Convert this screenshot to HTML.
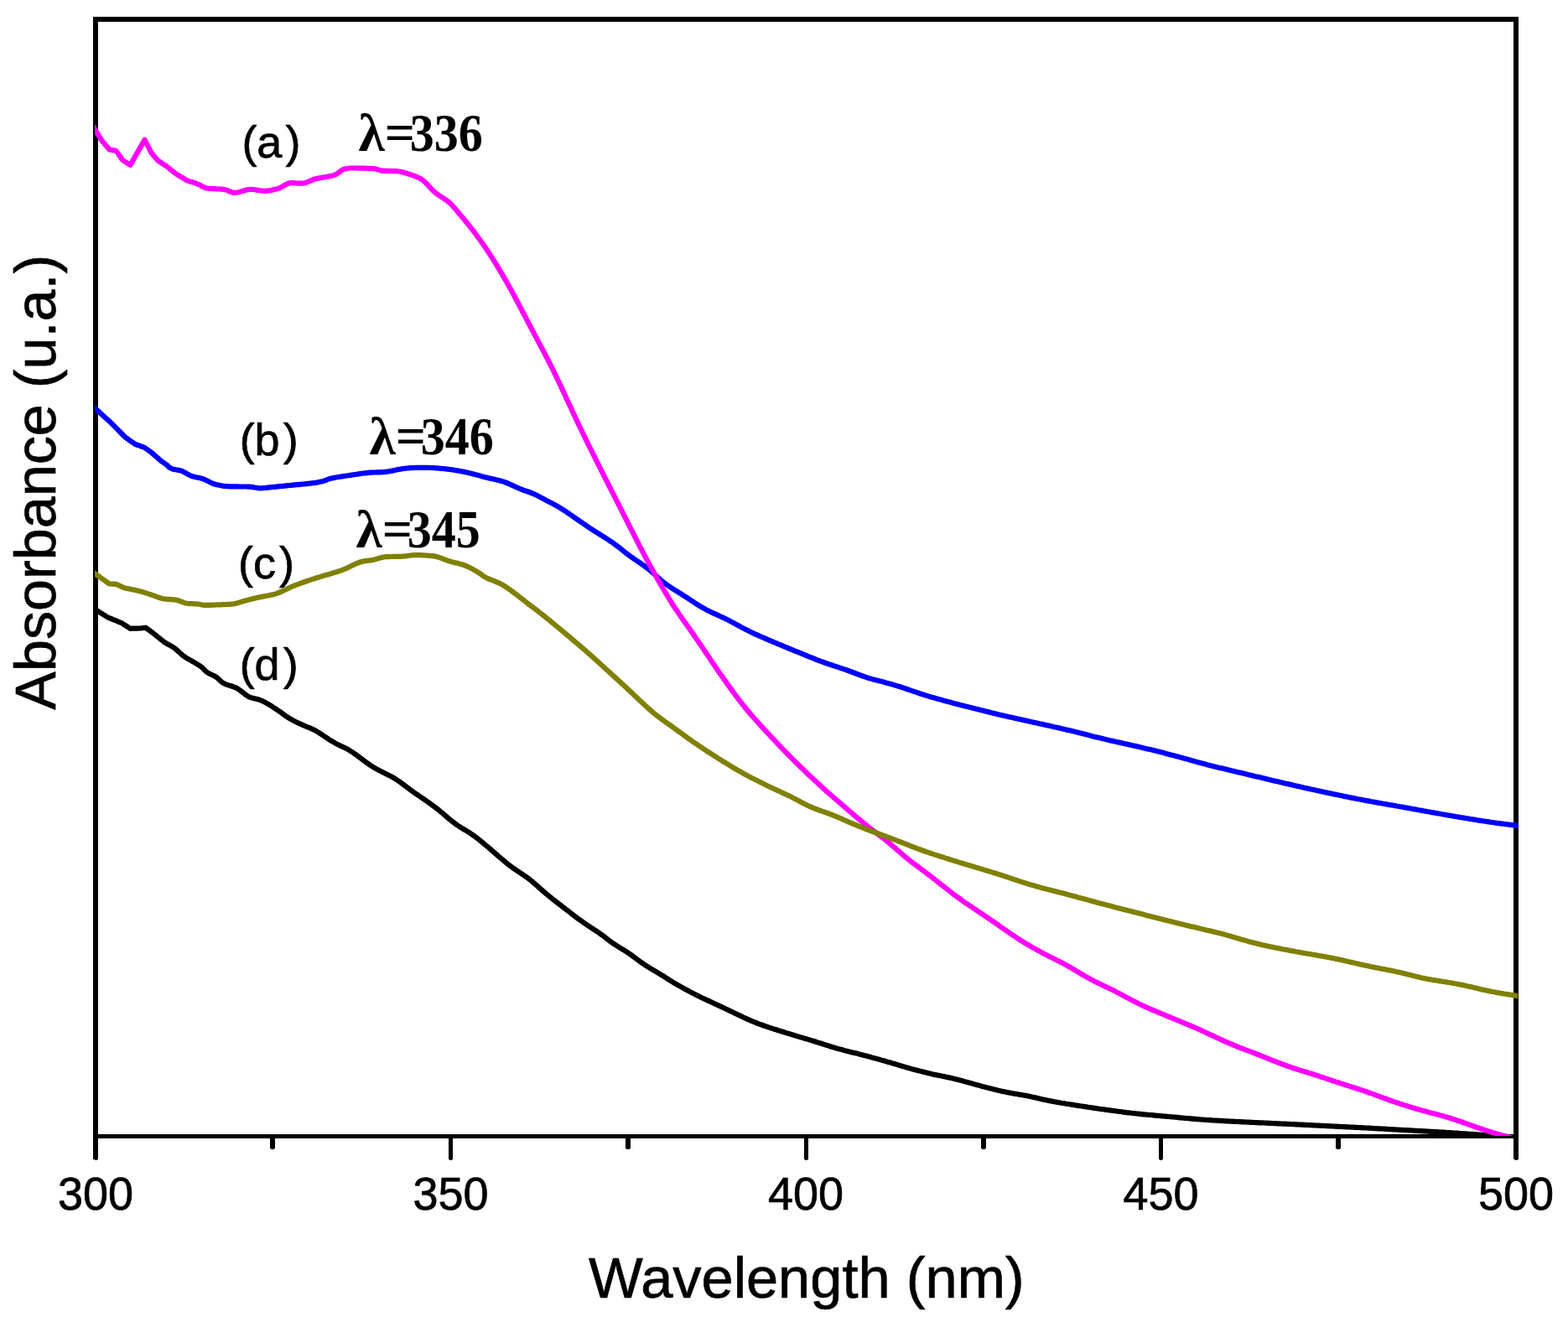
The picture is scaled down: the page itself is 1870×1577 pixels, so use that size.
<!DOCTYPE html>
<html lang="en">
<head>
<meta charset="utf-8">
<title>UV-Vis absorbance spectra</title>
<style>
html,body{margin:0;padding:0;background:#fff;}
body{width:1870px;height:1577px;overflow:hidden;}
svg{display:block;}
</style>
</head>
<body>
<svg width="1870" height="1577" viewBox="0 0 1870 1577">
<defs><clipPath id="clip"><rect x="113" y="23" width="1697.3" height="1332"/></clipPath></defs>
<rect x="0" y="0" width="1870" height="1577" fill="#fff"/>
<g fill="#000" shape-rendering="crispEdges">
<rect x="111" y="20" width="6" height="1363"/>
<rect x="1805" y="20" width="6" height="1363"/>
<rect x="111" y="20" width="1700" height="6"/>
<rect x="111" y="1353" width="1700" height="5"/>
<rect x="535.00" y="1353" width="5" height="30"/>
<rect x="958.50" y="1353" width="5" height="30"/>
<rect x="1382.00" y="1353" width="5" height="30"/>
<rect x="112.50" y="1383" width="3" height="1"/>
<rect x="536.00" y="1383" width="3" height="1"/>
<rect x="959.50" y="1383" width="3" height="1"/>
<rect x="1383.00" y="1383" width="3" height="1"/>
<rect x="1806.50" y="1383" width="3" height="1"/>
<rect x="322" y="1353" width="6" height="17"/>
<rect x="323" y="1370" width="4" height="1"/>
<rect x="746" y="1353" width="6" height="17"/>
<rect x="747" y="1370" width="4" height="1"/>
<rect x="1170" y="1353" width="6" height="17"/>
<rect x="1171" y="1370" width="4" height="1"/>
<rect x="1593" y="1353" width="6" height="17"/>
<rect x="1594" y="1370" width="4" height="1"/>
</g>
<g font-family="'Liberation Sans', Arial, sans-serif" font-size="54px" fill="#000" stroke="#000" stroke-width="0.7" stroke-linejoin="round">
<text transform="translate(114.0,1442.9) scale(1,1.04)" text-anchor="middle">300</text>
<text transform="translate(537.5,1442.9) scale(1,1.04)" text-anchor="middle">350</text>
<text transform="translate(961.0,1442.9) scale(1,1.04)" text-anchor="middle">400</text>
<text transform="translate(1384.5,1442.9) scale(1,1.04)" text-anchor="middle">450</text>
<text transform="translate(1808.0,1442.9) scale(1,1.04)" text-anchor="middle">500</text>
<text x="288.4 306.3 340.4" y="188.2">(a)</text>
<text x="285.7 303.6 337.7" y="543.2">(b)</text>
<text x="284.1 302.0 333.1" y="689.8">(c)</text>
<text x="285.7 303.6 337.7" y="811.4">(d)</text>
</g>
<g font-family="'Liberation Serif', 'Times New Roman', serif" font-weight="bold" font-size="62.5px" fill="#000">
<text y="179.8"><tspan x="427.6" textLength="67.5" lengthAdjust="spacingAndGlyphs">λ=</tspan><tspan x="488.7" textLength="87" lengthAdjust="spacingAndGlyphs">336</tspan></text>
<text y="541.8"><tspan x="440.6" textLength="67.5" lengthAdjust="spacingAndGlyphs">λ=</tspan><tspan x="501.7" textLength="87" lengthAdjust="spacingAndGlyphs">346</tspan></text>
<text y="652.5"><tspan x="424.6" textLength="67.5" lengthAdjust="spacingAndGlyphs">λ=</tspan><tspan x="485.7" textLength="87" lengthAdjust="spacingAndGlyphs">345</tspan></text>
</g>
<g font-family="'Liberation Sans', Arial, sans-serif" font-size="68.6px" fill="#000" stroke="#000" stroke-width="0.7" stroke-linejoin="round">
<text x="961.8" y="1547.6" text-anchor="middle">Wavelength (nm)</text>
<text transform="translate(66,575.2) rotate(-90)" text-anchor="middle" font-size="68.3px">Absorbance (u.a.)</text>
</g>
<g fill="none" stroke-width="6.2" stroke-linejoin="round" stroke-linecap="butt" clip-path="url(#clip)">
<path stroke="#000" d="M108.0,723.5 L113.6,727.0 L113.6,727.0 L115.6,728.3 L117.6,729.5 L119.6,730.8 L121.6,732.0 L123.6,733.3 L125.6,734.5 L127.6,735.8 L128.9,736.6 L129.6,736.9 L131.6,737.7 L133.6,738.5 L135.6,739.3 L137.6,740.1 L139.6,740.9 L141.6,741.8 L143.6,742.6 L144.9,743.1 L145.6,743.5 L147.6,744.8 L149.6,746.1 L151.6,747.4 L153.6,748.7 L155.4,749.8 L155.6,749.8 L157.6,749.7 L159.6,749.7 L161.6,749.6 L163.6,749.6 L165.6,749.5 L167.4,749.5 L167.6,749.5 L169.6,749.2 L171.6,749.0 L173.6,748.7 L173.8,748.7 L175.6,750.1 L177.6,751.5 L179.6,753.0 L181.6,754.5 L183.4,755.9 L183.6,756.1 L185.6,757.7 L187.6,759.3 L189.6,760.9 L191.6,762.5 L193.6,764.1 L195.6,765.7 L196.3,766.3 L197.6,767.0 L199.6,768.2 L201.6,769.3 L203.6,770.4 L205.6,771.5 L207.6,772.8 L209.6,774.3 L211.6,776.1 L213.6,778.0 L215.6,779.8 L217.6,781.6 L219.6,783.0 L221.6,784.4 L223.6,785.6 L225.6,786.8 L227.6,787.9 L229.6,789.0 L231.6,790.1 L233.6,791.3 L235.6,792.5 L237.6,793.8 L239.6,795.2 L241.6,796.9 L243.6,798.9 L245.6,800.8 L247.6,802.4 L249.6,803.5 L251.6,804.5 L253.6,805.4 L255.6,806.3 L257.6,807.5 L259.6,809.0 L261.6,810.9 L263.6,812.8 L265.6,814.4 L267.6,815.5 L269.6,816.4 L271.6,817.1 L273.6,817.7 L275.6,818.3 L277.6,819.0 L279.6,819.7 L281.6,820.5 L283.6,821.7 L285.6,823.0 L287.6,824.5 L289.6,826.1 L291.6,827.7 L293.6,829.2 L295.6,830.5 L297.6,831.6 L299.6,832.3 L301.6,832.9 L303.6,833.3 L305.6,833.7 L307.6,834.2 L309.6,834.8 L311.6,835.6 L313.6,836.5 L315.6,837.5 L317.6,838.6 L319.6,839.8 L321.6,841.0 L323.6,842.2 L325.6,843.5 L327.6,844.8 L329.6,846.1 L331.6,847.5 L333.6,848.8 L335.6,850.2 L337.6,851.7 L339.6,853.2 L341.6,854.7 L343.6,856.0 L345.6,857.2 L347.6,858.3 L349.6,859.4 L351.6,860.4 L353.6,861.4 L355.6,862.4 L357.6,863.3 L359.6,864.2 L361.6,865.1 L363.6,866.0 L365.6,866.9 L367.6,867.6 L369.6,868.4 L371.6,869.3 L373.6,870.2 L375.6,871.3 L377.6,872.4 L379.6,873.6 L381.6,874.9 L383.6,876.2 L385.6,877.5 L387.6,878.8 L389.6,880.1 L391.6,881.5 L393.6,882.8 L395.6,884.0 L397.6,885.2 L399.6,886.4 L401.6,887.5 L403.6,888.5 L405.6,889.4 L407.6,890.4 L409.6,891.3 L411.6,892.3 L413.6,893.3 L415.6,894.4 L417.6,895.6 L419.6,896.8 L421.6,898.2 L423.6,899.6 L425.6,901.0 L427.6,902.5 L429.6,904.0 L431.6,905.6 L433.6,907.1 L435.6,908.5 L437.6,910.0 L439.6,911.4 L441.6,912.8 L443.6,914.1 L445.6,915.3 L447.6,916.5 L449.6,917.6 L451.6,918.7 L453.6,919.7 L455.6,920.7 L457.6,921.7 L459.6,922.7 L461.6,923.7 L463.6,924.7 L465.6,925.7 L467.6,926.8 L469.6,928.0 L471.6,929.2 L473.6,930.5 L475.6,931.9 L477.6,933.3 L479.6,934.8 L481.6,936.3 L483.6,937.8 L485.6,939.3 L487.6,940.8 L489.6,942.3 L491.6,943.8 L493.6,945.2 L495.6,946.6 L497.6,947.9 L499.6,949.3 L501.6,950.7 L503.6,952.0 L505.6,953.4 L507.6,954.8 L509.6,956.2 L511.6,957.6 L513.6,959.0 L515.6,960.5 L517.6,962.0 L519.6,963.5 L521.6,965.1 L523.6,966.6 L525.6,968.3 L527.6,969.9 L529.6,971.6 L531.6,973.3 L533.6,975.1 L535.6,976.8 L537.6,978.4 L539.6,980.1 L541.6,981.6 L543.6,983.1 L545.6,984.5 L547.6,985.8 L549.6,987.1 L551.6,988.3 L553.6,989.5 L555.6,990.7 L557.6,992.0 L559.6,993.2 L561.6,994.5 L563.6,995.9 L565.6,997.3 L567.6,998.8 L569.6,1000.3 L571.6,1001.9 L573.6,1003.5 L575.6,1005.2 L577.6,1006.8 L579.6,1008.5 L581.6,1010.2 L583.6,1011.9 L585.6,1013.6 L587.6,1015.3 L589.6,1017.1 L591.6,1018.8 L593.6,1020.6 L595.6,1022.3 L597.6,1024.0 L599.6,1025.7 L601.6,1027.4 L603.6,1029.1 L605.6,1030.7 L607.6,1032.3 L609.6,1033.8 L611.6,1035.2 L613.6,1036.6 L615.6,1038.0 L617.6,1039.3 L619.6,1040.7 L621.6,1042.0 L623.6,1043.3 L625.6,1044.7 L627.6,1046.1 L629.6,1047.6 L631.6,1049.1 L633.6,1050.7 L635.6,1052.4 L637.6,1054.1 L639.6,1055.8 L641.6,1057.6 L643.6,1059.4 L645.6,1061.1 L647.6,1062.9 L649.6,1064.6 L651.6,1066.3 L653.6,1067.9 L655.6,1069.6 L657.6,1071.2 L659.6,1072.8 L661.6,1074.4 L663.6,1076.0 L665.6,1077.5 L667.6,1079.1 L669.6,1080.6 L671.6,1082.2 L673.6,1083.7 L675.6,1085.3 L677.6,1086.8 L679.6,1088.3 L681.6,1089.9 L683.6,1091.4 L685.6,1092.9 L687.6,1094.4 L689.6,1095.9 L691.6,1097.4 L693.6,1098.8 L695.6,1100.3 L697.6,1101.7 L699.6,1103.0 L701.6,1104.4 L703.6,1105.7 L705.6,1107.0 L707.6,1108.3 L709.6,1109.6 L711.6,1110.9 L713.6,1112.3 L715.6,1113.7 L717.6,1115.1 L719.6,1116.6 L721.6,1118.1 L723.6,1119.7 L725.6,1121.2 L727.6,1122.7 L729.6,1124.2 L731.6,1125.6 L733.6,1126.9 L735.6,1128.2 L737.6,1129.5 L739.6,1130.7 L741.6,1132.0 L743.6,1133.2 L745.6,1134.4 L747.6,1135.7 L749.6,1137.0 L751.6,1138.4 L753.6,1139.8 L755.6,1141.3 L757.6,1142.8 L759.6,1144.3 L761.6,1145.7 L763.6,1147.2 L765.6,1148.6 L767.6,1150.0 L769.6,1151.3 L771.6,1152.6 L773.6,1153.9 L775.6,1155.1 L777.6,1156.3 L779.6,1157.5 L781.6,1158.7 L783.6,1159.9 L785.6,1161.0 L787.6,1162.3 L789.6,1163.5 L791.6,1164.7 L793.6,1166.0 L795.6,1167.3 L797.6,1168.5 L799.6,1169.8 L801.6,1171.0 L803.6,1172.3 L805.6,1173.5 L807.6,1174.6 L809.6,1175.8 L811.6,1176.9 L813.6,1178.0 L815.6,1179.1 L817.6,1180.2 L819.6,1181.3 L821.6,1182.3 L823.6,1183.4 L825.6,1184.4 L827.6,1185.4 L829.6,1186.4 L831.6,1187.4 L833.6,1188.4 L835.6,1189.4 L837.6,1190.4 L839.6,1191.4 L841.6,1192.3 L843.6,1193.3 L845.6,1194.2 L847.6,1195.1 L849.6,1196.1 L851.6,1197.0 L853.6,1197.9 L855.6,1198.8 L857.6,1199.8 L859.6,1200.7 L861.6,1201.6 L863.6,1202.5 L865.6,1203.5 L867.6,1204.4 L869.6,1205.4 L871.6,1206.3 L873.6,1207.3 L875.6,1208.3 L877.6,1209.2 L879.6,1210.2 L881.6,1211.2 L883.6,1212.1 L885.6,1213.1 L887.6,1214.0 L889.6,1214.9 L891.6,1215.8 L893.6,1216.7 L895.6,1217.6 L897.6,1218.4 L899.6,1219.2 L901.6,1220.0 L903.6,1220.8 L905.6,1221.6 L907.6,1222.3 L909.6,1223.0 L911.6,1223.7 L913.6,1224.4 L915.6,1225.1 L917.6,1225.8 L919.6,1226.4 L921.6,1227.1 L923.6,1227.7 L925.6,1228.3 L927.6,1229.0 L929.6,1229.6 L931.6,1230.2 L933.6,1230.8 L935.6,1231.5 L937.6,1232.1 L939.6,1232.7 L941.6,1233.3 L943.6,1233.9 L945.6,1234.5 L947.6,1235.1 L949.6,1235.8 L951.6,1236.4 L953.6,1237.0 L955.6,1237.5 L957.6,1238.1 L959.6,1238.7 L961.6,1239.3 L963.6,1239.9 L965.6,1240.5 L967.6,1241.1 L969.6,1241.7 L971.6,1242.3 L973.6,1243.0 L975.6,1243.6 L977.6,1244.2 L979.6,1244.8 L981.6,1245.5 L983.6,1246.1 L985.6,1246.8 L987.6,1247.4 L989.6,1248.0 L991.6,1248.7 L993.6,1249.3 L995.6,1249.9 L997.6,1250.5 L999.6,1251.0 L1001.6,1251.6 L1003.6,1252.1 L1005.6,1252.6 L1007.6,1253.2 L1009.6,1253.7 L1011.6,1254.2 L1013.6,1254.7 L1015.6,1255.2 L1017.6,1255.7 L1019.6,1256.1 L1021.6,1256.6 L1023.6,1257.1 L1025.6,1257.7 L1027.6,1258.2 L1029.6,1258.7 L1031.6,1259.2 L1033.6,1259.7 L1035.6,1260.3 L1037.6,1260.8 L1039.6,1261.4 L1041.6,1261.9 L1043.6,1262.4 L1045.6,1263.0 L1047.6,1263.6 L1049.6,1264.1 L1051.6,1264.7 L1053.6,1265.2 L1055.6,1265.8 L1057.6,1266.4 L1059.6,1266.9 L1061.6,1267.5 L1063.6,1268.1 L1065.6,1268.7 L1067.6,1269.3 L1069.6,1269.9 L1071.6,1270.5 L1073.6,1271.1 L1075.6,1271.7 L1077.6,1272.3 L1079.6,1272.9 L1081.6,1273.4 L1083.6,1274.0 L1085.6,1274.6 L1087.6,1275.2 L1089.6,1275.7 L1091.6,1276.3 L1093.6,1276.8 L1095.6,1277.3 L1097.6,1277.8 L1099.6,1278.3 L1101.6,1278.9 L1103.6,1279.3 L1105.6,1279.8 L1107.6,1280.3 L1109.6,1280.8 L1111.6,1281.2 L1113.6,1281.7 L1115.6,1282.1 L1117.6,1282.5 L1119.6,1282.9 L1121.6,1283.3 L1123.6,1283.7 L1125.6,1284.1 L1127.6,1284.6 L1129.6,1285.0 L1131.6,1285.4 L1133.6,1285.8 L1135.6,1286.3 L1137.6,1286.8 L1139.6,1287.2 L1141.6,1287.7 L1143.6,1288.3 L1145.6,1288.8 L1147.6,1289.3 L1149.6,1289.9 L1151.6,1290.4 L1153.6,1291.0 L1155.6,1291.5 L1157.6,1292.1 L1159.6,1292.6 L1161.6,1293.2 L1163.6,1293.7 L1165.6,1294.3 L1167.6,1294.8 L1169.6,1295.4 L1171.6,1295.9 L1173.6,1296.4 L1175.6,1297.0 L1177.6,1297.5 L1179.6,1298.0 L1181.6,1298.5 L1183.6,1299.0 L1185.6,1299.5 L1187.6,1300.0 L1189.6,1300.5 L1191.6,1301.0 L1193.6,1301.4 L1195.6,1301.9 L1197.6,1302.3 L1199.6,1302.7 L1201.6,1303.1 L1203.6,1303.5 L1205.6,1303.9 L1207.6,1304.2 L1209.6,1304.6 L1211.6,1304.9 L1213.6,1305.2 L1215.6,1305.6 L1217.6,1305.9 L1219.6,1306.3 L1221.6,1306.6 L1223.6,1307.0 L1225.6,1307.4 L1227.6,1307.8 L1229.6,1308.2 L1231.6,1308.7 L1233.6,1309.1 L1235.6,1309.6 L1237.6,1310.0 L1239.6,1310.5 L1241.6,1311.0 L1243.6,1311.4 L1245.6,1311.9 L1247.6,1312.3 L1249.6,1312.7 L1251.6,1313.1 L1253.6,1313.5 L1255.6,1313.9 L1257.6,1314.3 L1259.6,1314.6 L1261.6,1315.0 L1263.6,1315.3 L1265.6,1315.7 L1267.6,1316.0 L1269.6,1316.3 L1271.6,1316.7 L1273.6,1317.0 L1275.6,1317.3 L1277.6,1317.6 L1279.6,1317.9 L1281.6,1318.3 L1283.6,1318.6 L1285.6,1318.9 L1287.6,1319.2 L1289.6,1319.5 L1291.6,1319.8 L1293.6,1320.1 L1295.6,1320.4 L1297.6,1320.7 L1299.6,1321.0 L1301.6,1321.3 L1303.6,1321.6 L1305.6,1321.9 L1307.6,1322.2 L1309.6,1322.5 L1311.6,1322.8 L1313.6,1323.0 L1315.6,1323.3 L1317.6,1323.6 L1319.6,1323.9 L1321.6,1324.1 L1323.6,1324.4 L1325.6,1324.7 L1327.6,1325.0 L1329.6,1325.2 L1331.6,1325.5 L1333.6,1325.8 L1335.6,1326.0 L1337.6,1326.3 L1339.6,1326.6 L1341.6,1326.8 L1343.6,1327.1 L1345.6,1327.3 L1347.6,1327.5 L1349.6,1327.8 L1351.6,1328.0 L1353.6,1328.2 L1355.6,1328.5 L1357.6,1328.7 L1359.6,1328.9 L1361.6,1329.1 L1363.6,1329.3 L1365.6,1329.5 L1367.6,1329.7 L1369.6,1329.9 L1371.6,1330.0 L1373.6,1330.2 L1375.6,1330.4 L1377.6,1330.6 L1379.6,1330.8 L1381.6,1330.9 L1383.6,1331.1 L1385.6,1331.3 L1387.6,1331.5 L1389.6,1331.6 L1391.6,1331.8 L1393.6,1332.0 L1395.6,1332.2 L1397.6,1332.3 L1399.6,1332.5 L1401.6,1332.7 L1403.6,1332.9 L1405.6,1333.1 L1407.6,1333.3 L1409.6,1333.5 L1411.6,1333.7 L1413.6,1333.8 L1415.6,1334.0 L1417.6,1334.2 L1419.6,1334.4 L1421.6,1334.6 L1423.6,1334.7 L1425.6,1334.9 L1427.6,1335.1 L1429.6,1335.2 L1431.6,1335.4 L1433.6,1335.5 L1435.6,1335.7 L1437.6,1335.8 L1439.6,1336.0 L1441.6,1336.1 L1443.6,1336.2 L1445.6,1336.4 L1447.6,1336.5 L1449.6,1336.6 L1451.6,1336.7 L1453.6,1336.8 L1455.6,1336.9 L1457.6,1337.1 L1459.6,1337.2 L1461.6,1337.3 L1463.6,1337.4 L1465.6,1337.5 L1467.6,1337.6 L1469.6,1337.7 L1471.6,1337.8 L1473.6,1337.9 L1475.6,1338.0 L1477.6,1338.1 L1479.6,1338.2 L1481.6,1338.3 L1483.6,1338.4 L1485.6,1338.5 L1487.6,1338.6 L1489.6,1338.7 L1491.6,1338.8 L1493.6,1338.9 L1495.6,1339.0 L1497.6,1339.1 L1499.6,1339.2 L1501.6,1339.3 L1503.6,1339.3 L1505.6,1339.4 L1507.6,1339.5 L1509.6,1339.6 L1511.6,1339.7 L1513.6,1339.8 L1515.6,1339.9 L1517.6,1340.0 L1519.6,1340.1 L1521.6,1340.2 L1523.6,1340.3 L1525.6,1340.4 L1527.6,1340.5 L1529.6,1340.6 L1531.6,1340.6 L1533.6,1340.7 L1535.6,1340.8 L1537.6,1340.9 L1539.6,1341.0 L1541.6,1341.1 L1543.6,1341.2 L1545.6,1341.3 L1547.6,1341.4 L1549.6,1341.5 L1551.6,1341.6 L1553.6,1341.7 L1555.6,1341.8 L1557.6,1341.9 L1559.6,1342.0 L1561.6,1342.1 L1563.6,1342.2 L1565.6,1342.3 L1567.6,1342.4 L1569.6,1342.5 L1571.6,1342.6 L1573.6,1342.7 L1575.6,1342.8 L1577.6,1342.9 L1579.6,1343.0 L1581.6,1343.1 L1583.6,1343.2 L1585.6,1343.3 L1587.6,1343.4 L1589.6,1343.5 L1591.6,1343.6 L1593.6,1343.7 L1595.6,1343.8 L1597.6,1343.9 L1599.6,1344.0 L1601.6,1344.1 L1603.6,1344.2 L1605.6,1344.3 L1607.6,1344.4 L1609.6,1344.5 L1611.6,1344.6 L1613.6,1344.7 L1615.6,1344.8 L1617.6,1344.9 L1619.6,1345.0 L1621.6,1345.1 L1623.6,1345.2 L1625.6,1345.3 L1627.6,1345.4 L1629.6,1345.5 L1631.6,1345.6 L1633.6,1345.7 L1635.6,1345.8 L1637.6,1346.0 L1639.6,1346.1 L1641.6,1346.2 L1643.6,1346.3 L1645.6,1346.4 L1647.6,1346.5 L1649.6,1346.6 L1651.6,1346.7 L1653.6,1346.8 L1655.6,1347.0 L1657.6,1347.1 L1659.6,1347.2 L1661.6,1347.3 L1663.6,1347.4 L1665.6,1347.5 L1667.6,1347.6 L1669.6,1347.8 L1671.6,1347.9 L1673.6,1348.0 L1675.6,1348.1 L1677.6,1348.2 L1679.6,1348.3 L1681.6,1348.4 L1683.6,1348.5 L1685.6,1348.6 L1687.6,1348.8 L1689.6,1348.9 L1691.6,1349.0 L1693.6,1349.1 L1695.6,1349.2 L1697.6,1349.3 L1699.6,1349.4 L1701.6,1349.5 L1703.6,1349.6 L1705.6,1349.8 L1707.6,1349.9 L1709.6,1350.0 L1711.6,1350.1 L1713.6,1350.2 L1715.6,1350.3 L1717.6,1350.5 L1719.6,1350.6 L1721.6,1350.7 L1723.6,1350.8 L1725.6,1351.0 L1727.6,1351.1 L1729.6,1351.2 L1731.6,1351.3 L1733.6,1351.5 L1735.6,1351.6 L1737.6,1351.7 L1739.6,1351.9 L1741.6,1352.0 L1743.6,1352.1 L1745.6,1352.3 L1747.6,1352.4 L1749.6,1352.5 L1751.6,1352.7 L1753.6,1352.8 L1755.6,1352.9 L1757.6,1353.1 L1759.6,1353.2 L1761.6,1353.3 L1763.6,1353.5 L1765.6,1353.6 L1767.6,1353.8 L1769.6,1353.9 L1771.6,1354.0 L1773.6,1354.2 L1775.6,1354.3 L1777.6,1354.4 L1779.6,1354.6 L1781.6,1354.7 L1783.6,1354.9 L1785.6,1355.0 L1787.6,1355.2 L1789.6,1355.3 L1791.6,1355.4 L1793.6,1355.6 L1795.6,1355.7 L1797.6,1355.8 L1799.6,1356.0 L1801.6,1356.1 L1802.2,1356.2 L1812.0,1357.1"/>
<path stroke="#00f" d="M108.0,482.2 L113.6,487.3 L113.6,487.3 L115.6,489.1 L117.6,490.9 L119.6,492.7 L121.6,494.6 L123.6,496.4 L125.6,498.2 L127.6,500.0 L129.6,501.8 L131.6,503.6 L132.1,504.1 L133.6,505.6 L135.6,507.6 L137.6,509.6 L139.6,511.6 L141.6,513.7 L143.6,515.7 L145.6,517.7 L147.6,519.7 L149.6,521.7 L149.7,521.8 L151.6,523.1 L153.6,524.6 L155.6,526.0 L157.6,527.4 L159.6,528.8 L161.0,529.8 L161.6,530.0 L163.6,530.7 L165.6,531.4 L167.6,532.2 L169.6,532.9 L171.6,533.6 L172.2,533.8 L173.6,534.8 L175.6,536.2 L177.6,537.6 L179.6,539.0 L180.2,539.4 L181.6,540.6 L183.6,542.4 L185.6,544.1 L187.6,545.8 L189.6,547.6 L191.6,549.3 L193.1,550.6 L193.6,550.9 L195.6,552.3 L197.6,553.7 L199.6,555.1 L201.6,557.3 L203.6,558.5 L205.6,559.4 L207.6,559.9 L209.6,560.3 L211.6,560.6 L213.6,561.0 L215.6,561.4 L217.6,562.2 L219.6,563.2 L221.6,564.3 L223.6,565.5 L225.6,566.6 L227.6,567.5 L229.6,568.2 L231.6,568.7 L233.6,569.2 L235.6,569.6 L237.6,570.0 L239.6,570.5 L241.6,571.1 L243.6,571.9 L245.6,572.8 L247.6,573.8 L249.6,574.8 L251.6,575.8 L253.6,576.7 L255.6,577.5 L257.6,578.0 L259.6,578.4 L261.6,578.8 L263.6,579.2 L265.6,579.6 L267.6,579.8 L269.6,580.1 L271.6,580.2 L273.6,580.3 L275.6,580.3 L277.6,580.4 L279.6,580.4 L281.6,580.4 L283.6,580.4 L285.6,580.5 L287.6,580.5 L289.6,580.5 L291.6,580.5 L293.6,580.5 L295.6,580.6 L297.6,580.6 L299.6,580.8 L301.6,581.1 L303.6,581.5 L305.6,581.8 L307.6,582.1 L309.6,582.3 L311.6,582.3 L313.6,582.2 L315.6,582.0 L317.6,581.8 L319.6,581.6 L321.6,581.4 L323.6,581.2 L325.6,581.0 L327.6,580.8 L329.6,580.6 L331.6,580.4 L333.6,580.2 L335.6,580.0 L337.6,579.8 L339.6,579.6 L341.6,579.4 L343.6,579.2 L345.6,579.0 L347.6,578.8 L349.6,578.6 L351.6,578.4 L353.6,578.2 L355.6,578.1 L357.6,577.9 L359.6,577.7 L361.6,577.5 L363.6,577.3 L365.6,577.1 L367.6,576.9 L369.6,576.7 L371.6,576.4 L373.6,576.2 L375.6,575.9 L377.6,575.6 L379.6,575.2 L381.6,574.8 L383.6,574.4 L385.6,573.9 L387.6,573.3 L389.6,572.4 L391.6,571.6 L393.6,571.0 L395.6,570.5 L397.6,570.1 L399.6,569.7 L401.6,569.3 L403.6,569.0 L405.6,568.7 L407.6,568.4 L409.6,568.1 L411.6,567.8 L413.6,567.5 L415.6,567.2 L417.6,566.9 L419.6,566.6 L421.6,566.3 L423.6,566.0 L425.6,565.7 L427.6,565.4 L429.6,565.1 L431.6,564.8 L433.6,564.5 L435.6,564.3 L437.6,564.1 L439.6,563.9 L441.6,563.7 L443.6,563.6 L445.6,563.5 L447.6,563.5 L449.6,563.4 L451.6,563.4 L453.6,563.3 L455.6,563.2 L457.6,563.1 L459.6,562.9 L461.6,562.7 L463.6,562.4 L465.6,562.0 L467.6,561.6 L469.6,561.2 L471.6,560.8 L473.6,560.3 L475.6,559.9 L477.6,559.6 L479.6,559.2 L481.6,559.0 L483.6,558.7 L485.6,558.5 L487.6,558.3 L489.6,558.2 L491.6,558.1 L493.6,558.0 L495.6,557.9 L497.6,557.9 L499.6,557.9 L501.6,557.8 L503.6,557.8 L505.6,557.8 L507.6,557.8 L509.6,557.9 L511.6,557.9 L513.6,558.0 L515.6,558.1 L517.6,558.2 L519.6,558.3 L521.6,558.4 L523.6,558.6 L525.6,558.8 L527.6,559.0 L529.6,559.2 L531.6,559.4 L533.6,559.6 L535.6,559.9 L537.6,560.1 L539.6,560.4 L541.6,560.7 L543.6,561.1 L545.6,561.4 L547.6,561.8 L549.6,562.1 L551.6,562.5 L553.6,562.9 L555.6,563.3 L557.6,563.8 L559.6,564.2 L561.6,564.7 L563.6,565.2 L565.6,565.7 L567.6,566.3 L569.6,566.8 L571.6,567.3 L573.6,567.9 L575.6,568.4 L577.6,568.9 L579.6,569.4 L581.6,569.9 L583.6,570.4 L585.6,570.9 L587.6,571.3 L589.6,571.8 L591.6,572.3 L593.6,572.7 L595.6,573.2 L597.6,573.8 L599.6,574.4 L601.6,575.0 L603.6,575.7 L605.6,576.5 L607.6,577.4 L609.6,578.3 L611.6,579.2 L613.6,580.2 L615.6,581.1 L617.6,582.0 L619.6,582.9 L621.6,583.7 L623.6,584.5 L625.6,585.2 L627.6,585.8 L629.6,586.5 L631.6,587.2 L633.6,588.0 L635.6,588.8 L637.6,589.7 L639.6,590.6 L641.6,591.6 L643.6,592.7 L645.6,593.8 L647.6,594.8 L649.6,595.9 L651.6,597.0 L653.6,598.0 L655.6,599.1 L657.6,600.1 L659.6,601.1 L661.6,602.2 L663.6,603.3 L665.6,604.4 L667.6,605.6 L669.6,606.8 L671.6,608.1 L673.6,609.4 L675.6,610.7 L677.6,612.1 L679.6,613.5 L681.6,614.8 L683.6,616.2 L685.6,617.6 L687.6,619.0 L689.6,620.4 L691.6,621.8 L693.6,623.2 L695.6,624.5 L697.6,625.9 L699.6,627.3 L701.6,628.7 L703.6,630.0 L705.6,631.3 L707.6,632.6 L709.6,633.9 L711.6,635.2 L713.6,636.4 L715.6,637.7 L717.6,638.9 L719.6,640.1 L721.6,641.4 L723.6,642.7 L725.6,644.0 L727.6,645.3 L729.6,646.6 L731.6,648.1 L733.6,649.5 L735.6,651.0 L737.6,652.6 L739.6,654.1 L741.6,655.7 L743.6,657.3 L745.6,658.9 L747.6,660.4 L749.6,662.0 L751.6,663.5 L753.6,664.9 L755.6,666.3 L757.6,667.7 L759.6,669.0 L761.6,670.4 L763.6,671.7 L765.6,673.1 L767.6,674.5 L769.6,676.0 L771.6,677.5 L773.6,679.0 L775.6,680.7 L777.6,682.4 L779.6,684.2 L781.6,686.0 L783.6,687.9 L785.6,689.7 L787.6,691.5 L789.6,693.2 L791.6,694.8 L793.6,696.4 L795.6,697.8 L797.6,699.2 L799.6,700.5 L801.6,701.8 L803.6,703.1 L805.6,704.3 L807.6,705.5 L809.6,706.8 L811.6,708.0 L813.6,709.3 L815.6,710.6 L817.6,711.9 L819.6,713.2 L821.6,714.5 L823.6,715.9 L825.6,717.2 L827.6,718.5 L829.6,719.8 L831.6,721.0 L833.6,722.3 L835.6,723.5 L837.6,724.7 L839.6,725.8 L841.6,726.9 L843.6,727.9 L845.6,729.0 L847.6,729.9 L849.6,730.9 L851.6,731.8 L853.6,732.7 L855.6,733.6 L857.6,734.5 L859.6,735.5 L861.6,736.4 L863.6,737.3 L865.6,738.3 L867.6,739.3 L869.6,740.3 L871.6,741.4 L873.6,742.4 L875.6,743.5 L877.6,744.6 L879.6,745.7 L881.6,746.8 L883.6,747.9 L885.6,748.9 L887.6,750.0 L889.6,751.0 L891.6,752.0 L893.6,753.0 L895.6,754.0 L897.6,754.9 L899.6,755.9 L901.6,756.8 L903.6,757.7 L905.6,758.6 L907.6,759.5 L909.6,760.4 L911.6,761.2 L913.6,762.1 L915.6,763.0 L917.6,763.8 L919.6,764.7 L921.6,765.5 L923.6,766.4 L925.6,767.2 L927.6,768.1 L929.6,768.9 L931.6,769.7 L933.6,770.5 L935.6,771.4 L937.6,772.2 L939.6,773.0 L941.6,773.8 L943.6,774.6 L945.6,775.5 L947.6,776.3 L949.6,777.1 L951.6,777.9 L953.6,778.7 L955.6,779.5 L957.6,780.4 L959.6,781.2 L961.6,782.0 L963.6,782.8 L965.6,783.6 L967.6,784.4 L969.6,785.2 L971.6,786.0 L973.6,786.8 L975.6,787.6 L977.6,788.3 L979.6,789.1 L981.6,789.8 L983.6,790.5 L985.6,791.3 L987.6,792.0 L989.6,792.6 L991.6,793.3 L993.6,794.0 L995.6,794.6 L997.6,795.3 L999.6,795.9 L1001.6,796.6 L1003.6,797.3 L1005.6,797.9 L1007.6,798.6 L1009.6,799.3 L1011.6,800.0 L1013.6,800.7 L1015.6,801.5 L1017.6,802.2 L1019.6,803.0 L1021.6,803.8 L1023.6,804.5 L1025.6,805.3 L1027.6,806.0 L1029.6,806.7 L1031.6,807.4 L1033.6,808.1 L1035.6,808.7 L1037.6,809.3 L1039.6,809.9 L1041.6,810.5 L1043.6,811.0 L1045.6,811.5 L1047.6,812.1 L1049.6,812.6 L1051.6,813.1 L1053.6,813.6 L1055.6,814.1 L1057.6,814.7 L1059.6,815.2 L1061.6,815.7 L1063.6,816.3 L1065.6,816.9 L1067.6,817.5 L1069.6,818.1 L1071.6,818.7 L1073.6,819.3 L1075.6,820.0 L1077.6,820.6 L1079.6,821.3 L1081.6,822.0 L1083.6,822.7 L1085.6,823.4 L1087.6,824.1 L1089.6,824.8 L1091.6,825.4 L1093.6,826.1 L1095.6,826.8 L1097.6,827.5 L1099.6,828.1 L1101.6,828.7 L1103.6,829.4 L1105.6,830.0 L1107.6,830.6 L1109.6,831.2 L1111.6,831.8 L1113.6,832.3 L1115.6,832.9 L1117.6,833.5 L1119.6,834.0 L1121.6,834.6 L1123.6,835.1 L1125.6,835.7 L1127.6,836.2 L1129.6,836.8 L1131.6,837.3 L1133.6,837.8 L1135.6,838.4 L1137.6,838.9 L1139.6,839.4 L1141.6,839.9 L1143.6,840.5 L1145.6,841.0 L1147.6,841.5 L1149.6,842.0 L1151.6,842.6 L1153.6,843.1 L1155.6,843.6 L1157.6,844.1 L1159.6,844.6 L1161.6,845.1 L1163.6,845.6 L1165.6,846.1 L1167.6,846.6 L1169.6,847.1 L1171.6,847.6 L1173.6,848.1 L1175.6,848.6 L1177.6,849.1 L1179.6,849.6 L1181.6,850.1 L1183.6,850.6 L1185.6,851.0 L1187.6,851.5 L1189.6,852.0 L1191.6,852.5 L1193.6,852.9 L1195.6,853.4 L1197.6,853.8 L1199.6,854.3 L1201.6,854.7 L1203.6,855.2 L1205.6,855.6 L1207.6,856.1 L1209.6,856.5 L1211.6,857.0 L1213.6,857.4 L1215.6,857.9 L1217.6,858.3 L1219.6,858.8 L1221.6,859.2 L1223.6,859.6 L1225.6,860.1 L1227.6,860.5 L1229.6,861.0 L1231.6,861.4 L1233.6,861.9 L1235.6,862.3 L1237.6,862.7 L1239.6,863.2 L1241.6,863.6 L1243.6,864.1 L1245.6,864.5 L1247.6,865.0 L1249.6,865.4 L1251.6,865.8 L1253.6,866.3 L1255.6,866.7 L1257.6,867.2 L1259.6,867.6 L1261.6,868.1 L1263.6,868.5 L1265.6,869.0 L1267.6,869.5 L1269.6,869.9 L1271.6,870.4 L1273.6,870.9 L1275.6,871.3 L1277.6,871.8 L1279.6,872.3 L1281.6,872.8 L1283.6,873.3 L1285.6,873.8 L1287.6,874.3 L1289.6,874.8 L1291.6,875.3 L1293.6,875.8 L1295.6,876.3 L1297.6,876.8 L1299.6,877.3 L1301.6,877.9 L1303.6,878.4 L1305.6,878.9 L1307.6,879.4 L1309.6,879.8 L1311.6,880.3 L1313.6,880.8 L1315.6,881.3 L1317.6,881.8 L1319.6,882.2 L1321.6,882.7 L1323.6,883.2 L1325.6,883.6 L1327.6,884.1 L1329.6,884.5 L1331.6,885.0 L1333.6,885.4 L1335.6,885.8 L1337.6,886.3 L1339.6,886.7 L1341.6,887.2 L1343.6,887.6 L1345.6,888.1 L1347.6,888.5 L1349.6,889.0 L1351.6,889.4 L1353.6,889.9 L1355.6,890.3 L1357.6,890.8 L1359.6,891.2 L1361.6,891.7 L1363.6,892.2 L1365.6,892.7 L1367.6,893.2 L1369.6,893.6 L1371.6,894.1 L1373.6,894.6 L1375.6,895.1 L1377.6,895.6 L1379.6,896.1 L1381.6,896.6 L1383.6,897.1 L1385.6,897.6 L1387.6,898.1 L1389.6,898.6 L1391.6,899.2 L1393.6,899.7 L1395.6,900.2 L1397.6,900.7 L1399.6,901.2 L1401.6,901.8 L1403.6,902.3 L1405.6,902.8 L1407.6,903.4 L1409.6,903.9 L1411.6,904.5 L1413.6,905.0 L1415.6,905.6 L1417.6,906.1 L1419.6,906.7 L1421.6,907.3 L1423.6,907.8 L1425.6,908.4 L1427.6,908.9 L1429.6,909.5 L1431.6,910.0 L1433.6,910.6 L1435.6,911.1 L1437.6,911.6 L1439.6,912.2 L1441.6,912.7 L1443.6,913.2 L1445.6,913.7 L1447.6,914.2 L1449.6,914.7 L1451.6,915.2 L1453.6,915.7 L1455.6,916.1 L1457.6,916.6 L1459.6,917.1 L1461.6,917.6 L1463.6,918.1 L1465.6,918.5 L1467.6,919.0 L1469.6,919.5 L1471.6,919.9 L1473.6,920.4 L1475.6,920.9 L1477.6,921.4 L1479.6,921.8 L1481.6,922.3 L1483.6,922.8 L1485.6,923.3 L1487.6,923.8 L1489.6,924.2 L1491.6,924.7 L1493.6,925.2 L1495.6,925.7 L1497.6,926.2 L1499.6,926.6 L1501.6,927.1 L1503.6,927.6 L1505.6,928.1 L1507.6,928.5 L1509.6,929.0 L1511.6,929.5 L1513.6,930.0 L1515.6,930.4 L1517.6,930.9 L1519.6,931.4 L1521.6,931.9 L1523.6,932.3 L1525.6,932.8 L1527.6,933.3 L1529.6,933.7 L1531.6,934.2 L1533.6,934.7 L1535.6,935.1 L1537.6,935.6 L1539.6,936.0 L1541.6,936.5 L1543.6,937.0 L1545.6,937.4 L1547.6,937.9 L1549.6,938.3 L1551.6,938.8 L1553.6,939.2 L1555.6,939.7 L1557.6,940.1 L1559.6,940.6 L1561.6,941.0 L1563.6,941.5 L1565.6,941.9 L1567.6,942.3 L1569.6,942.8 L1571.6,943.2 L1573.6,943.6 L1575.6,944.1 L1577.6,944.5 L1579.6,944.9 L1581.6,945.4 L1583.6,945.8 L1585.6,946.2 L1587.6,946.6 L1589.6,947.1 L1591.6,947.5 L1593.6,947.9 L1595.6,948.3 L1597.6,948.7 L1599.6,949.1 L1601.6,949.6 L1603.6,950.0 L1605.6,950.4 L1607.6,950.8 L1609.6,951.2 L1611.6,951.6 L1613.6,952.0 L1615.6,952.4 L1617.6,952.8 L1619.6,953.2 L1621.6,953.5 L1623.6,953.9 L1625.6,954.3 L1627.6,954.7 L1629.6,955.1 L1631.6,955.4 L1633.6,955.8 L1635.6,956.2 L1637.6,956.5 L1639.6,956.9 L1641.6,957.2 L1643.6,957.6 L1645.6,958.0 L1647.6,958.3 L1649.6,958.7 L1651.6,959.0 L1653.6,959.4 L1655.6,959.7 L1657.6,960.1 L1659.6,960.4 L1661.6,960.8 L1663.6,961.1 L1665.6,961.5 L1667.6,961.8 L1669.6,962.2 L1671.6,962.5 L1673.6,962.9 L1675.6,963.3 L1677.6,963.6 L1679.6,964.0 L1681.6,964.3 L1683.6,964.7 L1685.6,965.1 L1687.6,965.4 L1689.6,965.8 L1691.6,966.2 L1693.6,966.5 L1695.6,966.9 L1697.6,967.3 L1699.6,967.6 L1701.6,968.0 L1703.6,968.3 L1705.6,968.7 L1707.6,969.1 L1709.6,969.4 L1711.6,969.8 L1713.6,970.1 L1715.6,970.5 L1717.6,970.8 L1719.6,971.2 L1721.6,971.5 L1723.6,971.9 L1725.6,972.2 L1727.6,972.6 L1729.6,972.9 L1731.6,973.3 L1733.6,973.6 L1735.6,974.0 L1737.6,974.3 L1739.6,974.6 L1741.6,975.0 L1743.6,975.3 L1745.6,975.6 L1747.6,976.0 L1749.6,976.3 L1751.6,976.6 L1753.6,977.0 L1755.6,977.3 L1757.6,977.6 L1759.6,977.9 L1761.6,978.3 L1763.6,978.6 L1765.6,978.9 L1767.6,979.2 L1769.6,979.5 L1771.6,979.8 L1773.6,980.1 L1775.6,980.4 L1777.6,980.7 L1779.6,981.0 L1781.6,981.3 L1783.6,981.6 L1785.6,981.9 L1787.6,982.1 L1789.6,982.4 L1791.6,982.7 L1793.6,982.9 L1795.6,983.2 L1797.6,983.4 L1799.6,983.7 L1801.6,983.9 L1803.6,984.2 L1805.6,984.4 L1807.6,984.6 L1809.6,984.9 L1810.0,985.1 L1812.0,985.4"/>
<path stroke="#f0f" d="M108.0,145.9 L113.6,155.0 L113.6,155.0 L115.6,158.2 L117.6,161.5 L119.6,164.7 L121.6,167.9 L121.7,168.1 L123.6,170.3 L125.6,172.7 L127.6,175.0 L129.6,177.3 L130.5,178.4 L131.6,178.6 L133.6,179.0 L135.6,179.4 L137.6,179.8 L138.5,180.0 L139.6,181.5 L141.6,184.3 L143.6,187.1 L145.6,189.9 L146.5,191.2 L147.6,191.9 L149.6,193.1 L151.6,194.4 L153.6,195.6 L155.4,196.7 L155.6,196.4 L157.6,192.9 L159.6,189.4 L161.6,185.9 L163.6,182.4 L165.6,178.9 L167.6,175.4 L169.6,171.9 L171.6,168.4 L172.5,166.8 L173.6,168.9 L175.6,172.8 L177.6,176.7 L179.6,180.6 L180.2,181.8 L181.6,183.5 L183.6,185.9 L185.6,188.3 L187.6,190.7 L188.2,191.4 L189.6,192.3 L191.6,193.6 L193.6,195.0 L195.6,196.3 L197.6,197.6 L197.9,197.8 L199.6,199.1 L201.6,200.7 L203.6,202.3 L205.6,203.9 L207.6,205.5 L209.6,207.0 L210.7,207.9 L211.6,208.4 L213.6,209.6 L215.6,210.8 L217.6,212.0 L219.6,213.2 L221.6,214.4 L223.5,215.5 L223.6,215.5 L225.6,216.1 L227.6,216.7 L229.6,217.3 L231.6,217.9 L231.6,217.9 L233.6,218.7 L235.6,219.6 L237.6,220.4 L239.6,221.2 L241.6,222.7 L243.6,223.5 L245.6,224.2 L247.6,224.6 L249.6,224.8 L251.6,225.0 L253.6,225.1 L255.6,225.2 L257.6,225.3 L259.6,225.4 L261.6,225.5 L263.6,225.6 L265.6,225.8 L267.6,226.0 L269.6,226.6 L271.6,227.3 L273.6,228.2 L275.6,229.0 L277.6,229.6 L279.6,229.9 L281.6,229.8 L283.6,229.5 L285.6,229.0 L287.6,228.4 L289.6,227.8 L291.6,227.2 L293.6,226.6 L295.6,226.2 L297.6,226.0 L299.6,225.9 L301.6,226.0 L303.6,226.3 L305.6,226.6 L307.6,226.9 L309.6,227.2 L311.6,227.5 L313.6,227.7 L315.6,227.8 L317.6,227.7 L319.6,227.6 L321.6,227.3 L323.6,226.9 L325.6,226.4 L327.6,226.0 L329.6,225.5 L331.6,224.9 L333.6,224.2 L335.6,223.1 L337.6,222.0 L339.6,220.8 L341.6,219.8 L343.6,218.9 L345.6,218.3 L347.6,218.2 L349.6,218.2 L351.6,218.3 L353.6,218.5 L355.6,218.6 L357.6,218.7 L359.6,218.7 L361.6,218.6 L363.6,218.2 L365.6,217.5 L367.6,216.7 L369.6,215.8 L371.6,215.0 L373.6,214.2 L375.6,213.5 L377.6,213.0 L379.6,212.6 L381.6,212.2 L383.6,211.9 L385.6,211.5 L387.6,211.2 L389.6,210.9 L391.6,210.5 L393.6,210.1 L395.6,209.7 L397.6,209.1 L399.6,208.5 L401.6,207.5 L403.6,206.0 L405.6,204.5 L407.6,203.0 L409.6,202.0 L411.6,201.4 L413.6,201.0 L415.6,200.7 L417.6,200.5 L419.6,200.5 L421.6,200.5 L423.6,200.5 L425.6,200.5 L427.6,200.6 L429.6,200.6 L431.6,200.6 L433.6,200.7 L435.6,200.7 L437.6,200.8 L439.6,200.8 L441.6,200.9 L443.6,201.0 L445.6,201.1 L447.6,201.5 L449.6,202.0 L451.6,202.6 L453.6,203.2 L455.6,203.6 L457.6,203.7 L459.6,203.8 L461.6,203.9 L463.6,203.9 L465.6,204.0 L467.6,204.0 L469.6,204.1 L471.6,204.1 L473.6,204.2 L475.6,204.5 L477.6,204.8 L479.6,205.3 L481.6,205.8 L483.6,206.4 L485.6,207.0 L487.6,207.6 L489.6,208.3 L491.6,208.9 L493.6,209.6 L495.6,210.4 L497.6,211.2 L499.6,212.2 L501.6,213.2 L503.6,214.5 L505.6,216.1 L507.6,218.0 L509.6,220.0 L511.6,222.2 L513.6,224.4 L515.6,226.5 L517.6,228.5 L519.6,230.2 L521.6,231.7 L523.6,233.1 L525.6,234.4 L527.6,235.7 L529.6,237.0 L531.6,238.3 L533.6,239.8 L535.6,241.4 L537.6,243.2 L539.6,245.3 L541.6,247.5 L543.6,249.8 L545.6,252.2 L547.6,254.7 L549.6,257.1 L551.6,259.4 L553.6,261.8 L555.6,264.3 L557.6,266.7 L559.6,269.2 L561.6,271.8 L563.6,274.3 L565.6,276.9 L567.6,279.6 L569.6,282.3 L571.6,285.0 L573.6,287.8 L575.6,290.7 L577.6,293.5 L579.6,296.4 L581.6,299.4 L583.6,302.4 L585.6,305.5 L587.6,308.6 L589.6,311.8 L591.6,315.0 L593.6,318.3 L595.6,321.6 L597.6,325.0 L599.6,328.4 L601.6,331.9 L603.6,335.3 L605.6,338.9 L607.6,342.4 L609.6,346.0 L611.6,349.7 L613.6,353.4 L615.6,357.2 L617.6,361.0 L619.6,364.8 L621.6,368.6 L623.6,372.5 L625.6,376.3 L627.6,380.2 L629.6,384.0 L631.6,387.8 L633.6,391.6 L635.6,395.3 L637.6,399.1 L639.6,402.9 L641.6,406.6 L643.6,410.4 L645.6,414.2 L647.6,418.0 L649.6,421.8 L651.6,425.6 L653.6,429.5 L655.6,433.5 L657.6,437.4 L659.6,441.5 L661.6,445.6 L663.6,449.7 L665.6,453.9 L667.6,458.1 L669.6,462.4 L671.6,466.7 L673.6,471.0 L675.6,475.4 L677.6,479.7 L679.6,484.0 L681.6,488.3 L683.6,492.6 L685.6,496.9 L687.6,501.1 L689.6,505.3 L691.6,509.5 L693.6,513.7 L695.6,517.8 L697.6,521.9 L699.6,526.0 L701.6,530.1 L703.6,534.1 L705.6,538.2 L707.6,542.2 L709.6,546.2 L711.6,550.2 L713.6,554.2 L715.6,558.2 L717.6,562.2 L719.6,566.1 L721.6,570.1 L723.6,574.0 L725.6,578.0 L727.6,581.9 L729.6,585.8 L731.6,589.7 L733.6,593.6 L735.6,597.6 L737.6,601.5 L739.6,605.4 L741.6,609.4 L743.6,613.3 L745.6,617.3 L747.6,621.3 L749.6,625.3 L751.6,629.3 L753.6,633.2 L755.6,637.2 L757.6,641.1 L759.6,645.0 L761.6,648.9 L763.6,652.8 L765.6,656.6 L767.6,660.4 L769.6,664.2 L771.6,668.0 L773.6,671.7 L775.6,675.4 L777.6,679.0 L779.6,682.6 L781.6,686.2 L783.6,689.7 L785.6,693.2 L787.6,696.6 L789.6,700.1 L791.6,703.5 L793.6,706.9 L795.6,710.2 L797.6,713.5 L799.6,716.8 L801.6,720.0 L803.6,723.1 L805.6,726.2 L807.6,729.1 L809.6,732.1 L811.6,735.0 L813.6,737.8 L815.6,740.6 L817.6,743.4 L819.6,746.2 L821.6,749.1 L823.6,751.9 L825.6,754.8 L827.6,757.6 L829.6,760.6 L831.6,763.5 L833.6,766.4 L835.6,769.4 L837.6,772.4 L839.6,775.4 L841.6,778.3 L843.6,781.3 L845.6,784.3 L847.6,787.2 L849.6,790.2 L851.6,793.1 L853.6,796.0 L855.6,799.0 L857.6,801.9 L859.6,804.7 L861.6,807.6 L863.6,810.4 L865.6,813.3 L867.6,816.1 L869.6,818.8 L871.6,821.6 L873.6,824.4 L875.6,827.1 L877.6,829.8 L879.6,832.4 L881.6,835.1 L883.6,837.7 L885.6,840.3 L887.6,842.8 L889.6,845.3 L891.6,847.7 L893.6,850.1 L895.6,852.5 L897.6,854.8 L899.6,857.0 L901.6,859.3 L903.6,861.5 L905.6,863.6 L907.6,865.8 L909.6,868.0 L911.6,870.1 L913.6,872.3 L915.6,874.5 L917.6,876.6 L919.6,878.8 L921.6,880.9 L923.6,883.1 L925.6,885.2 L927.6,887.3 L929.6,889.5 L931.6,891.6 L933.6,893.6 L935.6,895.7 L937.6,897.8 L939.6,899.8 L941.6,901.8 L943.6,903.9 L945.6,905.9 L947.6,907.9 L949.6,909.8 L951.6,911.8 L953.6,913.8 L955.6,915.7 L957.6,917.6 L959.6,919.6 L961.6,921.5 L963.6,923.4 L965.6,925.3 L967.6,927.2 L969.6,929.0 L971.6,930.9 L973.6,932.7 L975.6,934.6 L977.6,936.4 L979.6,938.2 L981.6,940.1 L983.6,941.9 L985.6,943.7 L987.6,945.5 L989.6,947.2 L991.6,949.0 L993.6,950.8 L995.6,952.5 L997.6,954.3 L999.6,956.0 L1001.6,957.7 L1003.6,959.4 L1005.6,961.1 L1007.6,962.9 L1009.6,964.6 L1011.6,966.3 L1013.6,968.0 L1015.6,969.7 L1017.6,971.4 L1019.6,973.1 L1021.6,974.8 L1023.6,976.5 L1025.6,978.1 L1027.6,979.8 L1029.6,981.5 L1031.6,983.1 L1033.6,984.7 L1035.6,986.3 L1037.6,987.9 L1039.6,989.4 L1041.6,990.9 L1043.6,992.5 L1045.6,994.0 L1047.6,995.5 L1049.6,997.0 L1051.6,998.5 L1053.6,1000.1 L1055.6,1001.7 L1057.6,1003.3 L1059.6,1004.9 L1061.6,1006.6 L1063.6,1008.3 L1065.6,1010.0 L1067.6,1011.7 L1069.6,1013.5 L1071.6,1015.2 L1073.6,1017.0 L1075.6,1018.7 L1077.6,1020.4 L1079.6,1022.1 L1081.6,1023.7 L1083.6,1025.4 L1085.6,1027.0 L1087.6,1028.5 L1089.6,1030.1 L1091.6,1031.6 L1093.6,1033.1 L1095.6,1034.6 L1097.6,1036.1 L1099.6,1037.6 L1101.6,1039.1 L1103.6,1040.6 L1105.6,1042.1 L1107.6,1043.6 L1109.6,1045.1 L1111.6,1046.7 L1113.6,1048.2 L1115.6,1049.8 L1117.6,1051.3 L1119.6,1052.9 L1121.6,1054.5 L1123.6,1056.1 L1125.6,1057.6 L1127.6,1059.2 L1129.6,1060.8 L1131.6,1062.3 L1133.6,1063.9 L1135.6,1065.4 L1137.6,1066.9 L1139.6,1068.4 L1141.6,1069.9 L1143.6,1071.4 L1145.6,1072.8 L1147.6,1074.3 L1149.6,1075.7 L1151.6,1077.1 L1153.6,1078.4 L1155.6,1079.8 L1157.6,1081.1 L1159.6,1082.5 L1161.6,1083.8 L1163.6,1085.1 L1165.6,1086.5 L1167.6,1087.8 L1169.6,1089.1 L1171.6,1090.5 L1173.6,1091.8 L1175.6,1093.1 L1177.6,1094.5 L1179.6,1095.9 L1181.6,1097.3 L1183.6,1098.6 L1185.6,1100.0 L1187.6,1101.4 L1189.6,1102.8 L1191.6,1104.3 L1193.6,1105.7 L1195.6,1107.1 L1197.6,1108.5 L1199.6,1109.9 L1201.6,1111.3 L1203.6,1112.7 L1205.6,1114.0 L1207.6,1115.4 L1209.6,1116.7 L1211.6,1118.0 L1213.6,1119.3 L1215.6,1120.6 L1217.6,1121.9 L1219.6,1123.1 L1221.6,1124.4 L1223.6,1125.6 L1225.6,1126.8 L1227.6,1127.9 L1229.6,1129.1 L1231.6,1130.3 L1233.6,1131.4 L1235.6,1132.5 L1237.6,1133.6 L1239.6,1134.7 L1241.6,1135.8 L1243.6,1136.9 L1245.6,1137.9 L1247.6,1138.9 L1249.6,1140.0 L1251.6,1141.0 L1253.6,1142.0 L1255.6,1143.0 L1257.6,1144.0 L1259.6,1145.0 L1261.6,1146.0 L1263.6,1147.0 L1265.6,1148.0 L1267.6,1149.1 L1269.6,1150.1 L1271.6,1151.2 L1273.6,1152.3 L1275.6,1153.5 L1277.6,1154.6 L1279.6,1155.8 L1281.6,1157.0 L1283.6,1158.2 L1285.6,1159.4 L1287.6,1160.6 L1289.6,1161.8 L1291.6,1163.0 L1293.6,1164.2 L1295.6,1165.3 L1297.6,1166.4 L1299.6,1167.5 L1301.6,1168.6 L1303.6,1169.6 L1305.6,1170.7 L1307.6,1171.7 L1309.6,1172.6 L1311.6,1173.6 L1313.6,1174.6 L1315.6,1175.5 L1317.6,1176.5 L1319.6,1177.4 L1321.6,1178.4 L1323.6,1179.3 L1325.6,1180.3 L1327.6,1181.3 L1329.6,1182.3 L1331.6,1183.4 L1333.6,1184.4 L1335.6,1185.5 L1337.6,1186.5 L1339.6,1187.6 L1341.6,1188.7 L1343.6,1189.8 L1345.6,1190.8 L1347.6,1191.9 L1349.6,1193.0 L1351.6,1194.0 L1353.6,1195.1 L1355.6,1196.1 L1357.6,1197.1 L1359.6,1198.0 L1361.6,1199.0 L1363.6,1199.9 L1365.6,1200.8 L1367.6,1201.7 L1369.6,1202.6 L1371.6,1203.5 L1373.6,1204.3 L1375.6,1205.2 L1377.6,1206.0 L1379.6,1206.9 L1381.6,1207.7 L1383.6,1208.5 L1385.6,1209.4 L1387.6,1210.2 L1389.6,1211.0 L1391.6,1211.8 L1393.6,1212.7 L1395.6,1213.5 L1397.6,1214.3 L1399.6,1215.1 L1401.6,1216.0 L1403.6,1216.8 L1405.6,1217.6 L1407.6,1218.4 L1409.6,1219.3 L1411.6,1220.1 L1413.6,1220.9 L1415.6,1221.8 L1417.6,1222.6 L1419.6,1223.4 L1421.6,1224.3 L1423.6,1225.1 L1425.6,1226.0 L1427.6,1226.9 L1429.6,1227.8 L1431.6,1228.7 L1433.6,1229.6 L1435.6,1230.5 L1437.6,1231.4 L1439.6,1232.4 L1441.6,1233.3 L1443.6,1234.2 L1445.6,1235.2 L1447.6,1236.1 L1449.6,1237.1 L1451.6,1238.0 L1453.6,1238.9 L1455.6,1239.8 L1457.6,1240.8 L1459.6,1241.7 L1461.6,1242.6 L1463.6,1243.4 L1465.6,1244.3 L1467.6,1245.2 L1469.6,1246.0 L1471.6,1246.8 L1473.6,1247.7 L1475.6,1248.5 L1477.6,1249.3 L1479.6,1250.1 L1481.6,1250.8 L1483.6,1251.6 L1485.6,1252.4 L1487.6,1253.1 L1489.6,1253.9 L1491.6,1254.7 L1493.6,1255.4 L1495.6,1256.2 L1497.6,1257.0 L1499.6,1257.7 L1501.6,1258.5 L1503.6,1259.3 L1505.6,1260.1 L1507.6,1260.9 L1509.6,1261.7 L1511.6,1262.5 L1513.6,1263.3 L1515.6,1264.1 L1517.6,1264.9 L1519.6,1265.7 L1521.6,1266.5 L1523.6,1267.2 L1525.6,1268.0 L1527.6,1268.8 L1529.6,1269.5 L1531.6,1270.3 L1533.6,1271.0 L1535.6,1271.7 L1537.6,1272.4 L1539.6,1273.1 L1541.6,1273.8 L1543.6,1274.5 L1545.6,1275.1 L1547.6,1275.8 L1549.6,1276.4 L1551.6,1277.0 L1553.6,1277.6 L1555.6,1278.2 L1557.6,1278.8 L1559.6,1279.5 L1561.6,1280.1 L1563.6,1280.7 L1565.6,1281.3 L1567.6,1282.0 L1569.6,1282.6 L1571.6,1283.2 L1573.6,1283.9 L1575.6,1284.6 L1577.6,1285.2 L1579.6,1285.9 L1581.6,1286.6 L1583.6,1287.2 L1585.6,1287.9 L1587.6,1288.6 L1589.6,1289.2 L1591.6,1289.9 L1593.6,1290.6 L1595.6,1291.2 L1597.6,1291.9 L1599.6,1292.6 L1601.6,1293.2 L1603.6,1293.8 L1605.6,1294.5 L1607.6,1295.1 L1609.6,1295.8 L1611.6,1296.4 L1613.6,1297.0 L1615.6,1297.7 L1617.6,1298.3 L1619.6,1299.0 L1621.6,1299.6 L1623.6,1300.3 L1625.6,1300.9 L1627.6,1301.6 L1629.6,1302.3 L1631.6,1303.0 L1633.6,1303.7 L1635.6,1304.4 L1637.6,1305.1 L1639.6,1305.8 L1641.6,1306.6 L1643.6,1307.3 L1645.6,1308.1 L1647.6,1308.8 L1649.6,1309.6 L1651.6,1310.3 L1653.6,1311.0 L1655.6,1311.8 L1657.6,1312.5 L1659.6,1313.2 L1661.6,1313.9 L1663.6,1314.6 L1665.6,1315.2 L1667.6,1315.9 L1669.6,1316.6 L1671.6,1317.2 L1673.6,1317.9 L1675.6,1318.5 L1677.6,1319.1 L1679.6,1319.8 L1681.6,1320.4 L1683.6,1321.0 L1685.6,1321.6 L1687.6,1322.2 L1689.6,1322.8 L1691.6,1323.4 L1693.6,1323.9 L1695.6,1324.5 L1697.6,1325.1 L1699.6,1325.6 L1701.6,1326.1 L1703.6,1326.7 L1705.6,1327.2 L1707.6,1327.7 L1709.6,1328.3 L1711.6,1328.8 L1713.6,1329.3 L1715.6,1329.8 L1717.6,1330.4 L1719.6,1330.9 L1721.6,1331.5 L1723.6,1332.0 L1725.6,1332.6 L1727.6,1333.2 L1729.6,1333.8 L1731.6,1334.5 L1733.6,1335.1 L1735.6,1335.8 L1737.6,1336.5 L1739.6,1337.1 L1741.6,1337.8 L1743.6,1338.5 L1745.6,1339.2 L1747.6,1340.0 L1749.6,1340.7 L1751.6,1341.4 L1753.6,1342.1 L1755.6,1342.8 L1757.6,1343.5 L1759.6,1344.2 L1761.6,1344.9 L1763.6,1345.6 L1765.6,1346.2 L1767.6,1346.9 L1769.6,1347.6 L1771.6,1348.2 L1773.6,1348.9 L1775.6,1349.5 L1777.6,1350.2 L1779.6,1350.8 L1781.6,1351.4 L1783.6,1352.0 L1785.6,1352.6 L1787.6,1353.2 L1789.6,1353.8 L1791.6,1354.4 L1793.6,1354.9 L1795.6,1355.5 L1797.6,1356.1 L1799.6,1356.6 L1801.6,1357.2 L1803.6,1357.8 L1805.6,1358.3 L1807.6,1358.8 L1809.6,1359.4 L1810.0,1359.9 L1812.0,1360.6"/>
<path stroke="#808000" d="M108.0,680.5 L113.6,684.5 L113.6,684.5 L115.6,685.9 L117.6,687.3 L119.6,688.8 L121.6,690.2 L123.6,691.6 L125.6,693.0 L127.6,694.4 L129.6,695.9 L130.5,696.5 L131.6,696.5 L133.6,696.6 L135.6,696.7 L137.6,696.8 L138.5,696.8 L139.6,697.3 L141.6,698.3 L143.6,699.2 L145.6,700.1 L147.6,701.1 L148.1,701.3 L149.6,701.6 L151.6,702.0 L153.6,702.4 L155.6,702.8 L157.6,703.2 L159.6,703.6 L161.6,703.9 L163.6,704.4 L165.6,704.9 L167.6,705.4 L169.6,706.0 L171.6,706.6 L173.6,707.3 L175.6,707.9 L177.6,708.6 L179.6,709.2 L181.6,709.9 L183.6,710.6 L185.6,711.3 L187.6,712.1 L189.6,712.8 L191.6,713.5 L193.6,714.0 L195.6,714.4 L197.6,714.6 L199.6,714.8 L201.6,714.9 L203.6,715.1 L205.6,715.2 L207.6,715.3 L209.6,715.6 L211.6,716.0 L213.6,716.7 L215.6,717.4 L217.6,718.2 L219.6,718.9 L221.6,719.5 L223.6,719.8 L225.6,720.0 L227.6,720.1 L229.6,720.2 L231.6,720.3 L233.6,720.4 L235.6,720.5 L237.6,720.8 L239.6,721.2 L241.6,721.6 L243.6,721.9 L245.6,721.9 L247.6,721.9 L249.6,721.8 L251.6,721.8 L253.6,721.7 L255.6,721.6 L257.6,721.5 L259.6,721.4 L261.6,721.4 L263.6,721.3 L265.6,721.2 L267.6,721.1 L269.6,721.0 L271.6,720.9 L273.6,720.8 L275.6,720.7 L277.6,720.5 L279.6,720.2 L281.6,719.7 L283.6,719.2 L285.6,718.6 L287.6,718.0 L289.6,717.4 L291.6,716.8 L293.6,716.3 L295.6,715.8 L297.6,715.3 L299.6,714.8 L301.6,714.3 L303.6,713.8 L305.6,713.3 L307.6,712.8 L309.6,712.4 L311.6,712.0 L313.6,711.6 L315.6,711.2 L317.6,710.8 L319.6,710.5 L321.6,710.1 L323.6,709.6 L325.6,709.2 L327.6,708.7 L329.6,708.1 L331.6,707.3 L333.6,706.5 L335.6,705.7 L337.6,704.8 L339.6,703.8 L341.6,702.8 L343.6,701.9 L345.6,700.9 L347.6,700.0 L349.6,699.2 L351.6,698.4 L353.6,697.6 L355.6,696.9 L357.6,696.1 L359.6,695.4 L361.6,694.7 L363.6,694.0 L365.6,693.3 L367.6,692.6 L369.6,691.9 L371.6,691.3 L373.6,690.6 L375.6,690.0 L377.6,689.3 L379.6,688.7 L381.6,688.1 L383.6,687.5 L385.6,686.9 L387.6,686.3 L389.6,685.8 L391.6,685.2 L393.6,684.6 L395.6,684.0 L397.6,683.4 L399.6,682.8 L401.6,682.2 L403.6,681.5 L405.6,680.9 L407.6,680.2 L409.6,679.4 L411.6,678.6 L413.6,677.7 L415.6,676.8 L417.6,675.8 L419.6,674.8 L421.6,673.8 L423.6,672.9 L425.6,672.0 L427.6,671.2 L429.6,670.5 L431.6,669.9 L433.6,669.5 L435.6,669.1 L437.6,668.9 L439.6,668.6 L441.6,668.4 L443.6,668.1 L445.6,667.7 L447.6,667.2 L449.6,666.6 L451.6,666.0 L453.6,665.4 L455.6,664.9 L457.6,664.5 L459.6,664.2 L461.6,664.1 L463.6,664.1 L465.6,664.0 L467.6,664.0 L469.6,663.9 L471.6,663.9 L473.6,663.9 L475.6,663.8 L477.6,663.8 L479.6,663.7 L481.6,663.6 L483.6,663.3 L485.6,663.1 L487.6,662.8 L489.6,662.5 L491.6,662.3 L493.6,662.2 L495.6,662.1 L497.6,662.1 L499.6,662.2 L501.6,662.2 L503.6,662.3 L505.6,662.4 L507.6,662.5 L509.6,662.6 L511.6,662.8 L513.6,663.0 L515.6,663.1 L517.6,663.3 L519.6,663.7 L521.6,664.3 L523.6,664.9 L525.6,665.6 L527.6,666.4 L529.6,667.2 L531.6,667.9 L533.6,668.7 L535.6,669.3 L537.6,669.9 L539.6,670.4 L541.6,670.9 L543.6,671.4 L545.6,671.8 L547.6,672.4 L549.6,672.9 L551.6,673.5 L553.6,674.2 L555.6,675.0 L557.6,675.8 L559.6,676.8 L561.6,677.8 L563.6,678.9 L565.6,680.0 L567.6,681.1 L569.6,682.3 L571.6,683.6 L573.6,685.0 L575.6,686.5 L577.6,687.8 L579.6,689.0 L581.6,690.0 L583.6,690.8 L585.6,691.6 L587.6,692.4 L589.6,693.2 L591.6,694.0 L593.6,694.8 L595.6,695.7 L597.6,696.7 L599.6,697.8 L601.6,699.0 L603.6,700.3 L605.6,701.7 L607.6,703.1 L609.6,704.5 L611.6,706.0 L613.6,707.5 L615.6,709.1 L617.6,710.6 L619.6,712.2 L621.6,713.7 L623.6,715.3 L625.6,716.8 L627.6,718.4 L629.6,719.9 L631.6,721.5 L633.6,723.0 L635.6,724.5 L637.6,726.1 L639.6,727.6 L641.6,729.1 L643.6,730.7 L645.6,732.3 L647.6,733.8 L649.6,735.4 L651.6,737.0 L653.6,738.6 L655.6,740.2 L657.6,741.9 L659.6,743.5 L661.6,745.2 L663.6,746.8 L665.6,748.5 L667.6,750.2 L669.6,751.8 L671.6,753.5 L673.6,755.2 L675.6,756.9 L677.6,758.5 L679.6,760.2 L681.6,761.9 L683.6,763.6 L685.6,765.3 L687.6,767.0 L689.6,768.7 L691.6,770.4 L693.6,772.1 L695.6,773.8 L697.6,775.5 L699.6,777.3 L701.6,779.1 L703.6,780.8 L705.6,782.6 L707.6,784.4 L709.6,786.2 L711.6,788.0 L713.6,789.8 L715.6,791.7 L717.6,793.5 L719.6,795.3 L721.6,797.2 L723.6,799.0 L725.6,800.8 L727.6,802.6 L729.6,804.5 L731.6,806.3 L733.6,808.1 L735.6,809.9 L737.6,811.8 L739.6,813.6 L741.6,815.4 L743.6,817.3 L745.6,819.1 L747.6,821.0 L749.6,822.9 L751.6,824.7 L753.6,826.6 L755.6,828.5 L757.6,830.4 L759.6,832.3 L761.6,834.2 L763.6,836.1 L765.6,837.9 L767.6,839.8 L769.6,841.7 L771.6,843.5 L773.6,845.4 L775.6,847.1 L777.6,848.9 L779.6,850.6 L781.6,852.2 L783.6,853.8 L785.6,855.3 L787.6,856.8 L789.6,858.3 L791.6,859.7 L793.6,861.2 L795.6,862.6 L797.6,864.0 L799.6,865.4 L801.6,866.8 L803.6,868.3 L805.6,869.7 L807.6,871.2 L809.6,872.7 L811.6,874.1 L813.6,875.6 L815.6,877.1 L817.6,878.5 L819.6,879.9 L821.6,881.4 L823.6,882.8 L825.6,884.2 L827.6,885.6 L829.6,886.9 L831.6,888.3 L833.6,889.7 L835.6,891.0 L837.6,892.3 L839.6,893.7 L841.6,895.0 L843.6,896.3 L845.6,897.6 L847.6,898.9 L849.6,900.2 L851.6,901.5 L853.6,902.7 L855.6,904.0 L857.6,905.3 L859.6,906.5 L861.6,907.8 L863.6,909.0 L865.6,910.2 L867.6,911.5 L869.6,912.7 L871.6,913.9 L873.6,915.1 L875.6,916.3 L877.6,917.5 L879.6,918.6 L881.6,919.8 L883.6,920.9 L885.6,922.1 L887.6,923.2 L889.6,924.3 L891.6,925.4 L893.6,926.5 L895.6,927.5 L897.6,928.6 L899.6,929.6 L901.6,930.6 L903.6,931.6 L905.6,932.6 L907.6,933.6 L909.6,934.6 L911.6,935.6 L913.6,936.6 L915.6,937.5 L917.6,938.5 L919.6,939.4 L921.6,940.3 L923.6,941.3 L925.6,942.2 L927.6,943.1 L929.6,944.0 L931.6,944.9 L933.6,945.9 L935.6,946.8 L937.6,947.7 L939.6,948.7 L941.6,949.6 L943.6,950.6 L945.6,951.7 L947.6,952.7 L949.6,953.8 L951.6,954.8 L953.6,955.9 L955.6,957.0 L957.6,958.0 L959.6,959.1 L961.6,960.1 L963.6,961.0 L965.6,962.0 L967.6,962.8 L969.6,963.7 L971.6,964.5 L973.6,965.2 L975.6,966.0 L977.6,966.7 L979.6,967.4 L981.6,968.1 L983.6,968.8 L985.6,969.5 L987.6,970.2 L989.6,971.0 L991.6,971.7 L993.6,972.5 L995.6,973.3 L997.6,974.2 L999.6,975.0 L1001.6,975.9 L1003.6,976.7 L1005.6,977.6 L1007.6,978.5 L1009.6,979.4 L1011.6,980.3 L1013.6,981.1 L1015.6,982.0 L1017.6,982.8 L1019.6,983.7 L1021.6,984.5 L1023.6,985.3 L1025.6,986.1 L1027.6,986.9 L1029.6,987.7 L1031.6,988.5 L1033.6,989.3 L1035.6,990.0 L1037.6,990.8 L1039.6,991.5 L1041.6,992.3 L1043.6,993.0 L1045.6,993.8 L1047.6,994.5 L1049.6,995.3 L1051.6,996.0 L1053.6,996.7 L1055.6,997.4 L1057.6,998.2 L1059.6,998.9 L1061.6,999.7 L1063.6,1000.4 L1065.6,1001.2 L1067.6,1001.9 L1069.6,1002.7 L1071.6,1003.5 L1073.6,1004.2 L1075.6,1005.0 L1077.6,1005.8 L1079.6,1006.6 L1081.6,1007.4 L1083.6,1008.2 L1085.6,1009.0 L1087.6,1009.8 L1089.6,1010.5 L1091.6,1011.3 L1093.6,1012.1 L1095.6,1012.8 L1097.6,1013.5 L1099.6,1014.3 L1101.6,1015.0 L1103.6,1015.7 L1105.6,1016.4 L1107.6,1017.0 L1109.6,1017.7 L1111.6,1018.4 L1113.6,1019.1 L1115.6,1019.7 L1117.6,1020.4 L1119.6,1021.0 L1121.6,1021.7 L1123.6,1022.3 L1125.6,1022.9 L1127.6,1023.6 L1129.6,1024.2 L1131.6,1024.8 L1133.6,1025.5 L1135.6,1026.1 L1137.6,1026.7 L1139.6,1027.3 L1141.6,1027.9 L1143.6,1028.6 L1145.6,1029.2 L1147.6,1029.8 L1149.6,1030.4 L1151.6,1031.0 L1153.6,1031.6 L1155.6,1032.2 L1157.6,1032.8 L1159.6,1033.4 L1161.6,1034.0 L1163.6,1034.6 L1165.6,1035.2 L1167.6,1035.8 L1169.6,1036.4 L1171.6,1037.0 L1173.6,1037.6 L1175.6,1038.2 L1177.6,1038.8 L1179.6,1039.4 L1181.6,1040.0 L1183.6,1040.6 L1185.6,1041.2 L1187.6,1041.8 L1189.6,1042.5 L1191.6,1043.1 L1193.6,1043.8 L1195.6,1044.4 L1197.6,1045.1 L1199.6,1045.7 L1201.6,1046.4 L1203.6,1047.1 L1205.6,1047.7 L1207.6,1048.4 L1209.6,1049.1 L1211.6,1049.7 L1213.6,1050.4 L1215.6,1051.1 L1217.6,1051.7 L1219.6,1052.4 L1221.6,1053.0 L1223.6,1053.6 L1225.6,1054.3 L1227.6,1054.9 L1229.6,1055.5 L1231.6,1056.1 L1233.6,1056.6 L1235.6,1057.2 L1237.6,1057.8 L1239.6,1058.3 L1241.6,1058.9 L1243.6,1059.4 L1245.6,1059.9 L1247.6,1060.4 L1249.6,1061.0 L1251.6,1061.5 L1253.6,1062.0 L1255.6,1062.5 L1257.6,1063.0 L1259.6,1063.5 L1261.6,1064.0 L1263.6,1064.6 L1265.6,1065.1 L1267.6,1065.6 L1269.6,1066.1 L1271.6,1066.6 L1273.6,1067.2 L1275.6,1067.7 L1277.6,1068.2 L1279.6,1068.7 L1281.6,1069.3 L1283.6,1069.8 L1285.6,1070.4 L1287.6,1070.9 L1289.6,1071.5 L1291.6,1072.0 L1293.6,1072.5 L1295.6,1073.1 L1297.6,1073.6 L1299.6,1074.2 L1301.6,1074.7 L1303.6,1075.3 L1305.6,1075.8 L1307.6,1076.4 L1309.6,1076.9 L1311.6,1077.4 L1313.6,1078.0 L1315.6,1078.5 L1317.6,1079.0 L1319.6,1079.5 L1321.6,1080.1 L1323.6,1080.6 L1325.6,1081.1 L1327.6,1081.6 L1329.6,1082.2 L1331.6,1082.7 L1333.6,1083.2 L1335.6,1083.7 L1337.6,1084.2 L1339.6,1084.7 L1341.6,1085.2 L1343.6,1085.7 L1345.6,1086.3 L1347.6,1086.8 L1349.6,1087.3 L1351.6,1087.8 L1353.6,1088.3 L1355.6,1088.8 L1357.6,1089.3 L1359.6,1089.8 L1361.6,1090.3 L1363.6,1090.8 L1365.6,1091.4 L1367.6,1091.9 L1369.6,1092.4 L1371.6,1092.9 L1373.6,1093.4 L1375.6,1093.9 L1377.6,1094.4 L1379.6,1094.9 L1381.6,1095.4 L1383.6,1095.9 L1385.6,1096.4 L1387.6,1096.9 L1389.6,1097.4 L1391.6,1097.9 L1393.6,1098.4 L1395.6,1098.9 L1397.6,1099.4 L1399.6,1099.9 L1401.6,1100.4 L1403.6,1100.9 L1405.6,1101.4 L1407.6,1101.9 L1409.6,1102.4 L1411.6,1102.9 L1413.6,1103.4 L1415.6,1103.9 L1417.6,1104.4 L1419.6,1104.9 L1421.6,1105.4 L1423.6,1105.8 L1425.6,1106.3 L1427.6,1106.8 L1429.6,1107.3 L1431.6,1107.8 L1433.6,1108.2 L1435.6,1108.7 L1437.6,1109.2 L1439.6,1109.7 L1441.6,1110.1 L1443.6,1110.6 L1445.6,1111.1 L1447.6,1111.5 L1449.6,1112.0 L1451.6,1112.5 L1453.6,1113.0 L1455.6,1113.5 L1457.6,1114.0 L1459.6,1114.5 L1461.6,1115.1 L1463.6,1115.7 L1465.6,1116.2 L1467.6,1116.8 L1469.6,1117.4 L1471.6,1118.0 L1473.6,1118.6 L1475.6,1119.2 L1477.6,1119.8 L1479.6,1120.4 L1481.6,1120.9 L1483.6,1121.5 L1485.6,1122.1 L1487.6,1122.6 L1489.6,1123.2 L1491.6,1123.7 L1493.6,1124.2 L1495.6,1124.7 L1497.6,1125.2 L1499.6,1125.7 L1501.6,1126.2 L1503.6,1126.7 L1505.6,1127.2 L1507.6,1127.6 L1509.6,1128.1 L1511.6,1128.5 L1513.6,1128.9 L1515.6,1129.4 L1517.6,1129.8 L1519.6,1130.2 L1521.6,1130.6 L1523.6,1131.0 L1525.6,1131.4 L1527.6,1131.8 L1529.6,1132.2 L1531.6,1132.5 L1533.6,1132.9 L1535.6,1133.3 L1537.6,1133.7 L1539.6,1134.1 L1541.6,1134.4 L1543.6,1134.8 L1545.6,1135.2 L1547.6,1135.5 L1549.6,1135.9 L1551.6,1136.3 L1553.6,1136.6 L1555.6,1137.0 L1557.6,1137.3 L1559.6,1137.7 L1561.6,1138.0 L1563.6,1138.3 L1565.6,1138.7 L1567.6,1139.0 L1569.6,1139.4 L1571.6,1139.7 L1573.6,1140.1 L1575.6,1140.4 L1577.6,1140.8 L1579.6,1141.1 L1581.6,1141.5 L1583.6,1141.9 L1585.6,1142.2 L1587.6,1142.6 L1589.6,1143.0 L1591.6,1143.4 L1593.6,1143.9 L1595.6,1144.3 L1597.6,1144.7 L1599.6,1145.1 L1601.6,1145.6 L1603.6,1146.0 L1605.6,1146.5 L1607.6,1146.9 L1609.6,1147.4 L1611.6,1147.9 L1613.6,1148.3 L1615.6,1148.8 L1617.6,1149.2 L1619.6,1149.7 L1621.6,1150.2 L1623.6,1150.6 L1625.6,1151.1 L1627.6,1151.5 L1629.6,1151.9 L1631.6,1152.3 L1633.6,1152.8 L1635.6,1153.2 L1637.6,1153.6 L1639.6,1154.0 L1641.6,1154.4 L1643.6,1154.8 L1645.6,1155.2 L1647.6,1155.6 L1649.6,1155.9 L1651.6,1156.3 L1653.6,1156.7 L1655.6,1157.1 L1657.6,1157.5 L1659.6,1157.9 L1661.6,1158.3 L1663.6,1158.7 L1665.6,1159.2 L1667.6,1159.6 L1669.6,1160.0 L1671.6,1160.5 L1673.6,1161.0 L1675.6,1161.5 L1677.6,1162.0 L1679.6,1162.5 L1681.6,1163.0 L1683.6,1163.5 L1685.6,1164.0 L1687.6,1164.5 L1689.6,1165.1 L1691.6,1165.5 L1693.6,1166.0 L1695.6,1166.5 L1697.6,1166.9 L1699.6,1167.3 L1701.6,1167.7 L1703.6,1168.1 L1705.6,1168.4 L1707.6,1168.8 L1709.6,1169.1 L1711.6,1169.4 L1713.6,1169.8 L1715.6,1170.1 L1717.6,1170.4 L1719.6,1170.7 L1721.6,1171.0 L1723.6,1171.3 L1725.6,1171.6 L1727.6,1172.0 L1729.6,1172.3 L1731.6,1172.6 L1733.6,1173.0 L1735.6,1173.3 L1737.6,1173.7 L1739.6,1174.1 L1741.6,1174.5 L1743.6,1174.9 L1745.6,1175.3 L1747.6,1175.8 L1749.6,1176.2 L1751.6,1176.7 L1753.6,1177.1 L1755.6,1177.6 L1757.6,1178.1 L1759.6,1178.5 L1761.6,1179.0 L1763.6,1179.5 L1765.6,1179.9 L1767.6,1180.4 L1769.6,1180.9 L1771.6,1181.3 L1773.6,1181.7 L1775.6,1182.1 L1777.6,1182.6 L1779.6,1183.0 L1781.6,1183.3 L1783.6,1183.7 L1785.6,1184.1 L1787.6,1184.4 L1789.6,1184.8 L1791.6,1185.1 L1793.6,1185.5 L1795.6,1185.8 L1797.6,1186.1 L1799.6,1186.4 L1801.6,1186.7 L1803.6,1187.0 L1805.6,1187.3 L1807.6,1187.6 L1809.6,1187.8 L1810.0,1188.1 L1812.0,1188.5"/>
</g>

</svg>
</body>
</html>
